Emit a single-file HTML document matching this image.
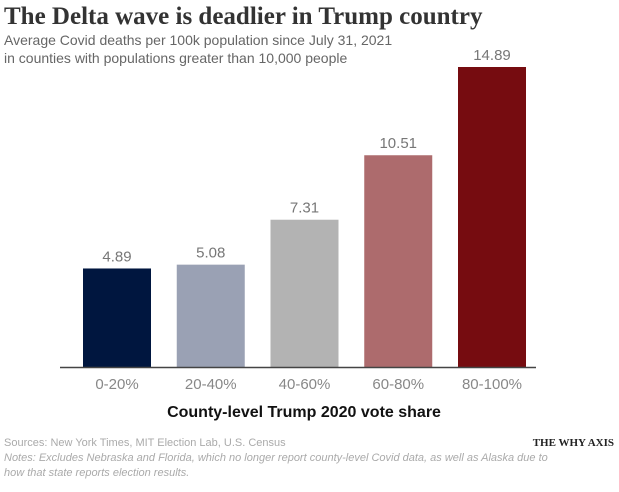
<!DOCTYPE html>
<html><head><meta charset="utf-8"><style>
body{margin:0;width:619px;height:487px;background:#fff;overflow:hidden;font-family:"Liberation Sans",sans-serif}
</style></head><body>
<svg width="619" height="487">
<text x="4" y="24" font-family="Liberation Serif, serif" font-weight="bold" font-size="25" fill="#333">The Delta wave is deadlier in Trump country</text>
<text x="4" y="45" font-size="14" fill="#666">Average Covid deaths per 100k population since July 31, 2021</text>
<text x="4" y="63" font-size="14" fill="#666">in counties with populations greater than 10,000 people</text>
<g id="bars"></g>
<line x1="60" x2="536" y1="367.5" y2="367.5" stroke="#444" stroke-width="1.5"/>
<text x="304" y="417" text-anchor="middle" font-size="16" font-weight="bold" fill="#111">County-level Trump 2020 vote share</text>
<text x="4" y="446" font-size="11" fill="#aaa">Sources: New York Times, MIT Election Lab, U.S. Census</text>
<text x="614" y="446" text-anchor="end" font-family="Liberation Serif, serif" font-weight="bold" font-size="11" fill="#222">THE WHY AXIS</text>
<text x="4" y="461" font-size="11" font-style="italic" fill="#aaa">Notes: Excludes Nebraska and Florida, which no longer report county-level Covid data, as well as Alaska due to</text>
<text x="4" y="476" font-size="11" font-style="italic" fill="#aaa">how that state reports election results.</text>
</svg>
<script>
const categories=["0-20%","20-40%","40-60%","60-80%","80-100%"];
const values=[4.89,5.08,7.31,10.51,14.89];
const valueLabels=["4.89","5.08","7.31","10.51","14.89"];
const colors=["#00163f","#9aa1b4","#b3b3b3","#ad6b6d","#760c10"];
const base=367, pxPer=300/14.89;
const y=v=>base-v*pxPer;
const x=i=>83+i*93.75;
const g=document.getElementById('bars');
const ns="http://www.w3.org/2000/svg";
categories.forEach((c,i)=>{
  const r=document.createElementNS(ns,'rect');
  r.setAttribute('x',x(i));r.setAttribute('width',68);
  r.setAttribute('y',y(values[i]));r.setAttribute('height',base-y(values[i]));
  r.setAttribute('fill',colors[i]);
  
  
  g.appendChild(r);
  const t=document.createElementNS(ns,'text');
  t.setAttribute('x',x(i)+34);t.setAttribute('y',y(values[i])-7);
  t.setAttribute('text-anchor','middle');t.setAttribute('font-size','15');t.setAttribute('fill','#777');
  t.textContent=valueLabels[i];
  
  
  g.appendChild(t);
  const l=document.createElementNS(ns,'text');
  l.setAttribute('x',x(i)+34);l.setAttribute('y',389);
  l.setAttribute('text-anchor','middle');l.setAttribute('font-size','15');l.setAttribute('fill','#888');
  l.textContent=c;
  
  
  g.appendChild(l);
});
</script>
</body></html>
